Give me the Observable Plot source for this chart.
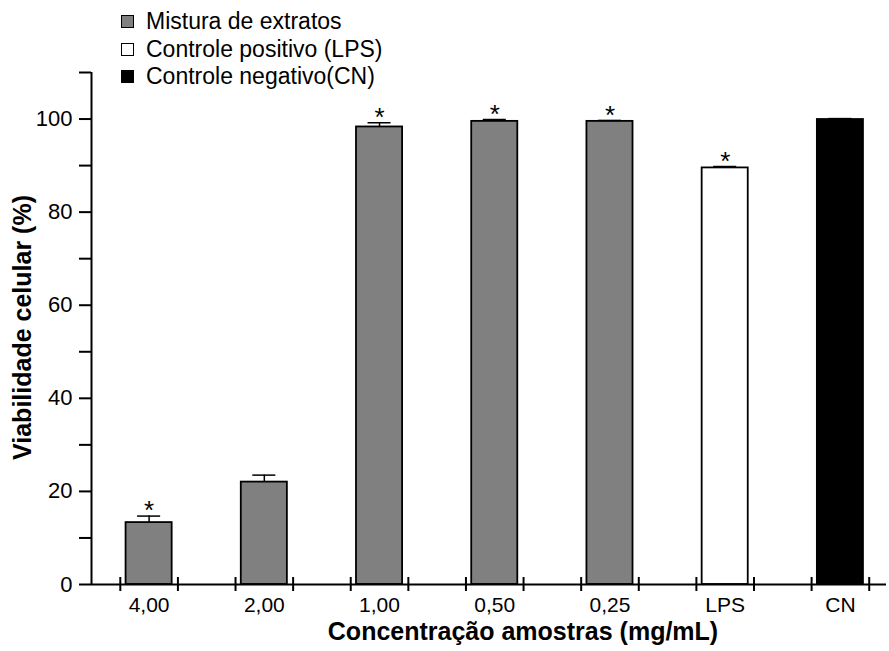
<!DOCTYPE html>
<html><head><meta charset="utf-8">
<script src="https://cdn.jsdelivr.net/npm/d3@7"></script>
<script src="https://cdn.jsdelivr.net/npm/@observablehq/plot@0.6"></script>
<style>
body{margin:0;background:#fff;font-family:"Liberation Sans",Arial,sans-serif;}
#wrap{position:relative;width:889px;height:651px;overflow:hidden;}
#legend{position:absolute;left:121px;top:8px;font-size:23px;line-height:27.5px;color:#000;}
.item{display:flex;align-items:center;white-space:nowrap;}
.sw{width:11px;height:11px;border:1.5px solid #000;margin-right:12px;box-sizing:content-box;}
</style></head><body>
<div id="wrap"><div id="chart"></div><div id="legend"></div></div>
<script>
const labels = ["4,00", "2,00", "1,00", "0,50", "0,25", "LPS", "CN"];
const means = [13.3, 22.0, 98.3, 99.5, 99.5, 89.5, 99.9];
const errors = [1.4, 1.5, 0.9, 0.4, 0.2, 0.3, 0.2];
const groups = ["Mistura de extratos", "Mistura de extratos", "Mistura de extratos", "Mistura de extratos", "Mistura de extratos", "Controle positivo (LPS)", "Controle negativo(CN)"];
const significant = [true, false, true, true, true, true, false];
const groupNames = ["Mistura de extratos", "Controle positivo (LPS)", "Controle negativo(CN)"];
const groupColors = ["#808080", "#ffffff", "#000000"];
const yTicks = [0, 10, 20, 30, 40, 50, 60, 70, 80, 90, 100, 110];
const yTickLabels = [0, 20, 40, 60, 80, 100];
const xTitle = "Concentração amostras (mg/mL)";
const yTitle = "Viabilidade celular (%)";

const data = labels.map((label, i) => ({i, label, mean: means[i], err: errors[i], group: groups[i], sig: significant[i]}));
const tickPos = data.flatMap(d => [d.i - 0.25, d.i + 0.25]);
const font = "Liberation Sans, Arial, sans-serif";

const chart = Plot.plot({
  width: 889, height: 651,
  marginLeft: 91, marginRight: 3, marginTop: 72, marginBottom: 67,
  style: {fontFamily: font, fontSize: "21px", background: "#fff", color: "#000"},
  x: {type: "linear", domain: [-0.5, 6.4], axis: null},
  y: {domain: [0, 110], axis: null},
  color: {domain: groupNames, range: groupColors},
  marks: [
    Plot.axisY({ticks: yTicks, label: null, tickSize: 12, strokeWidth: 2, tickFormat: () => ""}),
    Plot.text(yTickLabels, {x: -0.5, y: d => d, text: d => String(d), textAnchor: "end", dx: -19, fontSize: 22}),
    Plot.rectY(data, {x1: d => d.i - 0.2, x2: d => d.i + 0.2, y: "mean", fill: "group", stroke: "#000", strokeWidth: 1.8}),
    Plot.ruleX(data, {x: "i", y1: "mean", y2: d => d.mean + d.err, stroke: "#000", strokeWidth: 1.5}),
    Plot.ruleY(data, {y: d => d.mean + d.err, x1: d => d.i - 0.1, x2: d => d.i + 0.1, stroke: "#000", strokeWidth: 1.5}),
    Plot.text(data.filter(d => d.sig), {x: "i", y: d => d.mean + d.err, text: () => "*", dy: -5, fontSize: 26}),
    Plot.ruleY([0], {stroke: "#000", strokeWidth: 2}),
    Plot.ruleX([-0.5], {stroke: "#000", strokeWidth: 2}),
    Plot.ruleX(tickPos, {y1: -1.5, y2: 1.5, stroke: "#000", strokeWidth: 2}),
    Plot.text(data, {x: "i", y: 0, text: "label", dy: 21, fontSize: 21}),
    Plot.text([xTitle], {frameAnchor: "bottom", dx: 34, dy: 55, fontSize: 25, fontWeight: "bold"}),
    Plot.text([yTitle], {frameAnchor: "left", textAnchor: "middle", rotate: -90, dx: -69, dy: -1, fontSize: 25, fontWeight: "bold"})
  ]
});
document.getElementById("chart").appendChild(chart);

const legend = document.getElementById("legend");
groupNames.forEach((g, k) => {
  const row = document.createElement("div");
  row.className = "item";
  const sw = document.createElement("span");
  sw.className = "sw";
  sw.style.background = groupColors[k];
  const t = document.createElement("span");
  t.textContent = g;
  row.appendChild(sw); row.appendChild(t);
  legend.appendChild(row);
});
</script>
</body></html>
